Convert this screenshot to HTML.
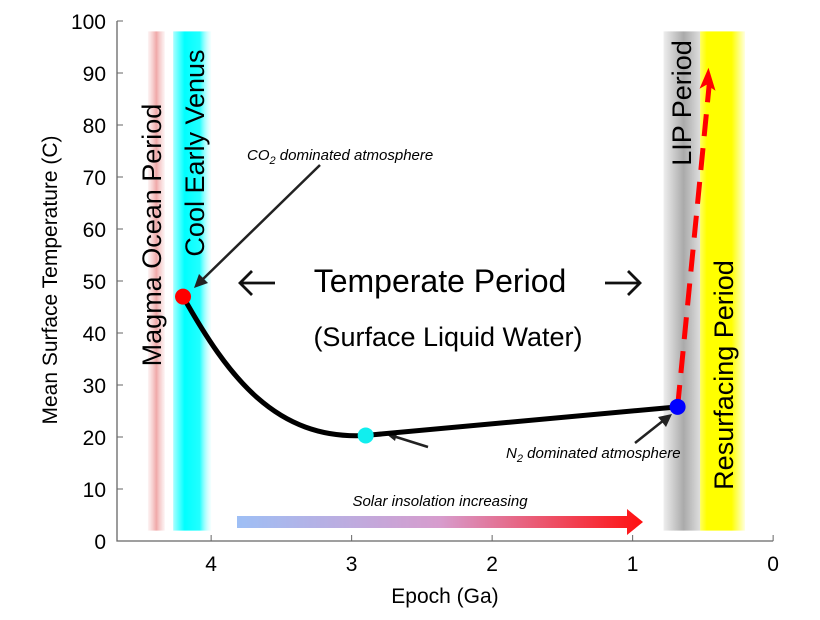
<!DOCTYPE html>
<html><head><meta charset="utf-8"><style>
body{margin:0;background:#fff}
svg text{font-family:"Liberation Sans",sans-serif}
</style></head><body>
<svg id="c" width="820" height="615">
<defs>
<linearGradient id="gp" x1="0" x2="1"><stop offset="0" stop-color="#f4c4c4" stop-opacity="0.2"/><stop offset="0.5" stop-color="#f0a8a8"/><stop offset="1" stop-color="#f4c4c4" stop-opacity="0.2"/></linearGradient>
<linearGradient id="gc" x1="0" x2="1"><stop offset="0" stop-color="#aff"/><stop offset="0.3" stop-color="#0ff"/><stop offset="0.7" stop-color="#2ff"/><stop offset="1" stop-color="#dff" stop-opacity="0.3"/></linearGradient>
<linearGradient id="gg" x1="0" x2="1"><stop offset="0" stop-color="#eee"/><stop offset="0.55" stop-color="#aaa"/><stop offset="1" stop-color="#ddd"/></linearGradient>
<linearGradient id="gy" x1="0" x2="1"><stop offset="0" stop-color="#ffff60"/><stop offset="0.15" stop-color="#ff0"/><stop offset="0.7" stop-color="#ff0"/><stop offset="1" stop-color="#ffffe0"/></linearGradient>
<linearGradient id="gs" x1="0" x2="1"><stop offset="0" stop-color="#9ebff5"/><stop offset="0.5" stop-color="#d79ccd"/><stop offset="1" stop-color="#ff1010"/></linearGradient>
</defs>
<g id="g"></g>
</svg>
<script>
const xTicks=[4,3,2,1,0];
const yTicks=[0,10,20,30,40,50,60,70,80,90,100];
const bands=[{n:'magma-band',a:4.45,b:4.33,f:'url(#gp)'},{n:'cool-venus-band',a:4.27,b:4.0,f:'url(#gc)'},{n:'lip-band',a:0.78,b:0.52,f:'url(#gg)'},{n:'resurfacing-band',a:0.52,b:0.2,f:'url(#gy)'}];
const pointsX=[4.2,2.9,0.68];
const pointsY=[47,20.3,25.8];
const pointColors=['#f00','#1ee','#00f'];
const arrowX=[0.68,0.46];
const arrowY=[25.8,91];
const X=v=>117+(4.67-v)*140.5;
const Y=v=>541-v*5.2;
const g=document.getElementById('g');
const NS='http://www.w3.org/2000/svg';
function mk(t,a,p){const e=document.createElementNS(NS,t);for(const k in a)e.setAttribute(k,a[k]);(p||g).appendChild(e);return e;}
bands.forEach(b=>{const e=mk('rect',{x:X(b.a),y:Y(98),width:X(b.b)-X(b.a),height:Y(2)-Y(98),fill:b.f});

});
let ax=mk('path',{d:`M117,${Y(100)}V541H${X(0)}`,stroke:'#666',fill:'none','stroke-width':1.3});


xTicks.forEach(t=>{mk('line',{x1:X(t),x2:X(t),y1:541,y2:535,stroke:'#666'});
const e=mk('text',{x:X(t),y:571,'text-anchor':'middle','font-size':21});e.textContent=t;

});
yTicks.forEach(t=>{mk('line',{x1:117,x2:123,y1:Y(t),y2:Y(t),stroke:'#666'});
const e=mk('text',{x:106,y:Y(t)+8,'text-anchor':'end','font-size':21});e.textContent=t;

});
function txt(s,a,n){const e=mk('text',a);e.textContent=s;return e;}
txt('Epoch (Ga)',{x:445,y:603,'text-anchor':'middle','font-size':21},'x-axis-title');
txt('Mean Surface Temperature (C)',{x:57,y:280,'text-anchor':'middle','font-size':21,transform:'rotate(-90 57 280)'},'y-axis-title');
txt('Magma Ocean Period',{x:161,y:235,'text-anchor':'middle','font-size':27,transform:'rotate(-90 161 235)'},'magma-label');
txt('Cool Early Venus',{x:204,y:153,'text-anchor':'middle','font-size':27,transform:'rotate(-90 204 153)'},'cool-venus-label');
txt('LIP Period',{x:691,y:103,'text-anchor':'middle','font-size':27,transform:'rotate(-90 691 103)'},'lip-label');
txt('Resurfacing Period',{x:733,y:375,'text-anchor':'middle','font-size':27,transform:'rotate(-90 733 375)'},'resurfacing-label');
txt('Temperate Period',{x:440,y:292,'text-anchor':'middle','font-size':32},'temperate-label');
let ta=mk('path',{d:'M240,283H275M252,271L240,283L252,295M605,283H640M628,271L640,283L628,295',stroke:'#111','stroke-width':2.8,fill:'none'});

txt('(Surface Liquid Water)',{x:448,y:346,'text-anchor':'middle','font-size':27},'water-label');
const co=txt('',{x:247,y:160,'font-size':15,'font-style':'italic'},'co2-label');co.innerHTML='CO<tspan dy="4" font-size="11">2</tspan><tspan dy="-4"> dominated atmosphere</tspan>';
const n2=txt('',{x:506,y:458,'font-size':15,'font-style':'italic'},'n2-label');n2.innerHTML='N<tspan dy="4" font-size="11">2</tspan><tspan dy="-4"> dominated atmosphere</tspan>';
txt('Solar insolation increasing',{x:440,y:506,'text-anchor':'middle','font-size':15,'font-style':'italic'},'solar-label');
let sa=mk('path',{d:'M237,516H627V509L643,522L627,535V528H237Z',fill:'url(#gs)'});

mk('path',{d:'M320,165L201,281',stroke:'#222','stroke-width':2.5,fill:'none'});
mk('path',{d:'M194,288L199,274L208,283Z',fill:'#222'});
mk('path',{d:'M428,447L393,436',stroke:'#222','stroke-width':2.5});
mk('path',{d:'M385,433L398,430L395,441Z',fill:'#222'});
mk('path',{d:'M635,443L664,420',stroke:'#222','stroke-width':2.5});
mk('path',{d:'M672,414L658,417L666,427Z',fill:'#222'});
const cx=pointsX.map(X),cy=pointsY.map(Y);
let cv=mk('path',{d:`M${cx[0]},${cy[0]}C${cx[0]+45},${cy[0]+80} ${cx[1]-90},${cy[1]+5} ${cx[1]},${cy[1]}L${cx[2]},${cy[2]}`,stroke:'#000','stroke-width':5,fill:'none'});

let da=mk('path',{d:`M${X(arrowX[0])},${Y(arrowY[0])}L${X(arrowX[1])+1},${Y(arrowY[1])+14}`,stroke:'#f00','stroke-width':5,'stroke-dasharray':'22,12',fill:'none'});

mk('path',{d:`M${X(arrowX[1])},${Y(arrowY[1])}l-9,21l7,-4l9,6Z`,fill:'#f00'});
pointsX.forEach((p,i)=>{const e=mk('circle',{cx:X(p),cy:Y(pointsY[i]),r:8,fill:pointColors[i]});

});
</script>
</body></html>
